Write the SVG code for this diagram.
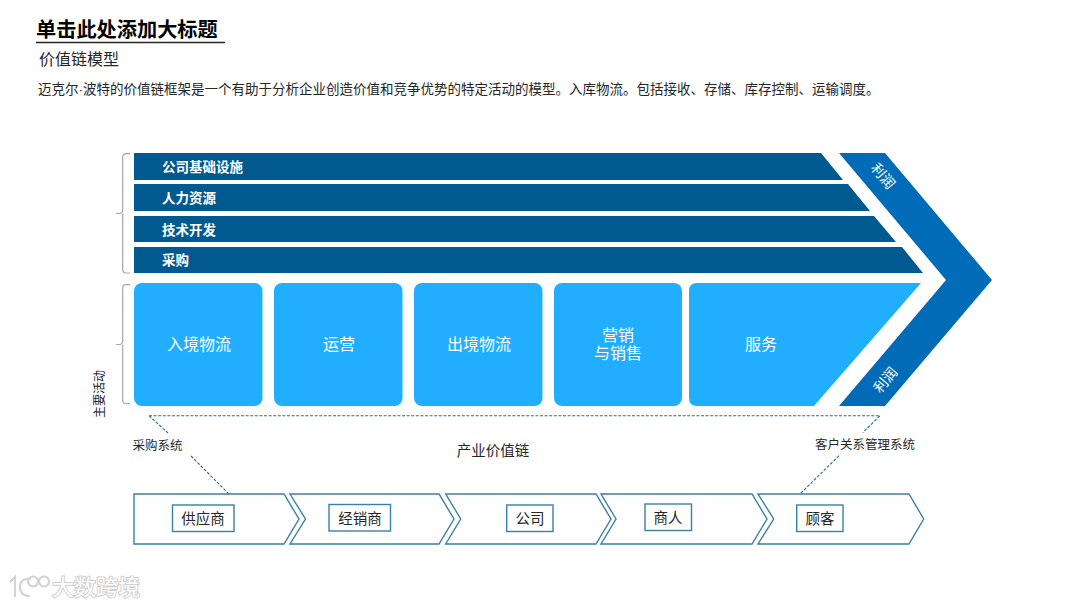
<svg xmlns="http://www.w3.org/2000/svg" width="1080" height="608" viewBox="0 0 1080 608">
<style>
text{font-family:"Noto Sans CJK SC","Noto Sans",sans-serif;fill:#262626}
.bar{fill:#005a8f}
.barT{font-size:13.500px;font-weight:700;fill:#fff}
.box{fill:#22aeff}
.boxT{font-size:16px;fill:#fff;text-anchor:middle}
.chev{fill:#006cb8}
.chevT{font-size:14px;fill:#fff;text-anchor:middle}
.brace{fill:none;stroke:#a6a6a6;stroke-width:1.2}
.dash{fill:none;stroke:#2a6c90;stroke-width:1.1;stroke-dasharray:3 1.600}
.step{fill:#fff;stroke:#3a7fa6;stroke-width:1.4}
.tag{fill:#fff;stroke:#3a7fa6;stroke-width:1.4}
.tagT{font-size:14.500px;text-anchor:middle}
.lab{font-size:12.500px;text-anchor:middle}
.wm{font-size:22px;fill:#fff;stroke:#cfcfcf;stroke-width:2;paint-order:stroke}
.wmL{fill:none;stroke:#d4d4d4;stroke-width:2.2}
</style>
<rect width="1080" height="608" fill="#fff"/>
<g id="header">
<text x="36" y="36.500" font-size="20.200" font-weight="700" style="fill:#000">单击此处添加大标题</text>
<line x1="36" y1="42.500" x2="225" y2="42.500" stroke="#262626" stroke-width="1.300"/>
<text x="39" y="65" font-size="16">价值链模型</text>
<text x="38" y="94" font-size="13.500">迈克尔<tspan font-family="Liberation Sans">·</tspan>波特的价值链框架是一个有助于分析企业创造价值和竞争优势的特定活动的模型。入库物流。包括接收、存储、库存控制、运输调度。</text>
</g>
<g id="connectors">
<path class="brace" d="M130 153.700H126Q122.700 153.700 122.700 157V210Q122.700 213.500 119 213.500H116M122.700 213.500Q122.700 217 122.700 220V269Q122.700 273 126 273H130"/>
<path class="brace" d="M130 284.700H126Q122.700 284.700 122.700 288V341Q122.700 344.500 119 344.500H116M122.700 344.500V400Q122.700 403.500 126 403.500H130"/>
<path class="dash" d="M149 415.700H880L862.700 432.700M149 415.700L168 433M191 456L229 494M839 455.700L801 493"/>
</g>
<g id="bar-infrastructure"><path class="bar" d="M134 153H821L843 180H134Z"/><text class="barT" x="162" y="172">公司基础设施</text></g>
<g id="bar-hr"><path class="bar" d="M134 184H848L870 211H134Z"/><text class="barT" x="162" y="203">人力资源</text></g>
<g id="bar-tech"><path class="bar" d="M134 216H874L896 242H134Z"/><text class="barT" x="162" y="234.500">技术开发</text></g>
<g id="bar-purchase"><path class="bar" d="M134 247H902L923 273H134Z"/><text class="barT" x="162" y="265">采购</text></g>
<g id="box-inbound"><rect class="box" x="134" y="283" width="128.500" height="123" rx="8"/><text class="boxT" x="199" y="349.500">入境物流</text></g>
<g id="box-ops"><rect class="box" x="274" y="283" width="128.500" height="123" rx="8"/><text class="boxT" x="339" y="349.500">运营</text></g>
<g id="box-outbound"><rect class="box" x="414" y="283" width="128.500" height="123" rx="8"/><text class="boxT" x="479" y="349.500">出境物流</text></g>
<g id="box-marketing"><rect class="box" x="554" y="283" width="128" height="123" rx="8"/><text class="boxT"><tspan x="618" y="341">营销</tspan><tspan x="618" y="359">与销售</tspan></text></g>
<g id="box-service"><path class="box" d="M697 283H921L814 406H697Q689 406 689 398V291Q689 283 697 283Z"/><text class="boxT" x="761" y="349.500">服务</text></g>
<g id="profit-chevron"><path class="chev" d="M839 153H885L992 280L885 406H839L946 280Z"/>
<text class="chevT" transform="translate(883 176) rotate(50)" y="5">利润</text>
<text class="chevT" transform="translate(885.500 380) rotate(-50)" y="5">利润</text></g>
<g id="labels">
<text font-size="12" text-anchor="middle" transform="translate(100 394) rotate(-90)" y="4">主要活动</text>
<text class="lab" x="157.500" y="450">采购系统</text>
<text x="493" y="456" font-size="14.500" text-anchor="middle">产业价值链</text>
<text class="lab" x="865" y="449">客户关系管理系统</text>
</g>
<g id="step-supplier"><path class="step" d="M134 494H284L299 519L284 544H134Z"/><rect class="tag" x="172.500" y="505" width="61.500" height="26.500"/><text class="tagT" x="203" y="524">供应商</text></g>
<g id="step-dealer"><path class="step" d="M290 494H439L454 519L439 544H290L305.500 519Z"/><rect class="tag" x="329" y="504.500" width="61.500" height="26.500"/><text class="tagT" x="360" y="523.500">经销商</text></g>
<g id="step-company"><path class="step" d="M445.700 494H596L611 519L596 544H445.700L460.700 519Z"/><rect class="tag" x="506.700" y="505" width="46.300" height="26.500"/><text class="tagT" x="530" y="524">公司</text></g>
<g id="step-merchant"><path class="step" d="M601 494H752L767 519L752 544H601L616 519Z"/><rect class="tag" x="645" y="504" width="46.500" height="26.500"/><text class="tagT" x="668" y="523">商人</text></g>
<g id="step-customer"><path class="step" d="M758 494H909L923.700 519L909 544H758L773.700 519Z"/><rect class="tag" x="796.700" y="505" width="46.300" height="26.500"/><text class="tagT" x="820" y="524">顾客</text></g>
<g id="watermark">
<path class="wmL" d="M10 582L15 577V597M31 579Q20 578 20 587Q20 596 30 596M33 576.500a5 5 0 1 0 0.100 0ZM44 576.500a5 5 0 1 0 0.100 0Z"/>
<text class="wm" x="52" y="595">大数跨境</text>
</g>
</svg>
